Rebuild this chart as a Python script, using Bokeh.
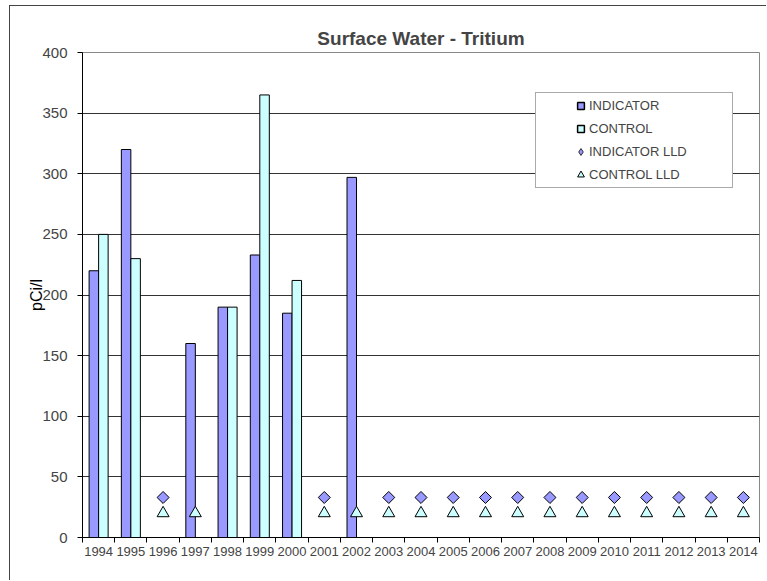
import numpy as np
from bokeh.plotting import figure
from bokeh.layouts import column
from bokeh.models import ColumnDataSource, FixedTicker, Legend, LegendItem, Range1d, Title
from bokeh.transform import dodge
from bokeh.embed import file_html
from bokeh.resources import INLINE

nan = float("nan")

years = ["1994", "1995", "1996", "1997", "1998", "1999", "2000", "2001", "2002",
         "2003", "2004", "2005", "2006", "2007", "2008", "2009", "2010", "2011",
         "2012", "2013", "2014"]
indicator = [220, 320, nan, 160, 190, 233, 185, nan, 297,
             nan, nan, nan, nan, nan, nan, nan, nan, nan, nan, nan, nan]
control = [250, 230, nan, nan, 190, 365, 212, nan, nan,
           nan, nan, nan, nan, nan, nan, nan, nan, nan, nan, nan, nan]
indicator_lld = [nan, nan, 33, nan, nan, nan, nan, 33, nan,
                 33, 33, 33, 33, 33, 33, 33, 33, 33, 33, 33, 33]
control_lld = [nan, nan, 20, 20, nan, nan, nan, 20, 20,
               20, 20, 20, 20, 20, 20, 20, 20, 20, 20, 20, 20]
y_ticks = [0, 50, 100, 150, 200, 250, 300, 350, 400]

FONT = "Liberation Sans"
IND_COLOR = "#9999FF"
CTL_COLOR = "#CCFFFF"

n = len(years)
pos = list(range(n))
src = ColumnDataSource(dict(x=pos, ind=indicator, ctl=control,
                            ind_lld=indicator_lld, ctl_lld=control_lld))

p = figure(width=756, height=574, x_range=Range1d(-0.5, n - 0.5), y_range=Range1d(0, 400),
           output_backend="svg", toolbar_location=None,
           min_border_left=72, min_border_right=7, min_border_top=46, min_border_bottom=43)

bw = 0.295
p.vbar(x=dodge("x", -bw / 2), top="ind", width=bw, source=src,
       fill_color=IND_COLOR, line_color="black", line_width=1)
p.vbar(x=dodge("x", bw / 2), top="ctl", width=bw, source=src,
       fill_color=CTL_COLOR, line_color="black", line_width=1)
p.scatter(x="x", y="ind_lld", source=src, marker="square", angle=np.pi / 4, size=8.5,
          fill_color=IND_COLOR, line_color="black", line_width=1)
r_ctl_lld = p.scatter(x="x", y="ctl_lld", source=src, marker="triangle", size=12,
                      fill_color=CTL_COLOR, line_color="black", line_width=1)

# legend-only swatches (single NaN point, never drawn on the plot)
sw_ind = p.scatter(x=[nan], y=[nan], marker="square", fill_color=IND_COLOR,
                   line_color="black", line_width=1.5)
sw_ctl = p.scatter(x=[nan], y=[nan], marker="square", fill_color=CTL_COLOR,
                   line_color="black", line_width=1.5)
sw_ind_lld = p.scatter(x=[nan], y=[nan], marker="diamond", fill_color=IND_COLOR,
                       line_color="black", line_width=0.8)

legend = Legend(items=[LegendItem(label="INDICATOR", renderers=[sw_ind]),
                       LegendItem(label="CONTROL", renderers=[sw_ctl]),
                       LegendItem(label="INDICATOR LLD", renderers=[sw_ind_lld]),
                       LegendItem(label="CONTROL LLD", renderers=[r_ctl_lld])],
                location=(453, 349), title=" ", title_location="left", title_standoff=18,
                title_text_font_size="12px", padding=4, margin=0,
                glyph_width=17, glyph_height=17, label_height=17, label_width=139,
                spacing=6, label_standoff=-1,
                label_text_font=FONT, label_text_font_size="13px",
                border_line_color="#555555", border_line_width=1,
                background_fill_color="white", background_fill_alpha=1)
p.add_layout(legend)

# axes
p.xaxis.ticker = FixedTicker(ticks=pos, minor_ticks=[i - 0.5 for i in range(n + 1)])
p.xaxis.major_label_overrides = {i: years[i] for i in pos}
p.xaxis.major_tick_out = 0
p.xaxis.major_tick_in = 0
p.xaxis.minor_tick_out = 5
p.xaxis.minor_tick_in = 0
p.xaxis.major_label_text_font = FONT
p.xaxis.major_label_text_font_size = "13px"
p.xaxis.major_label_standoff = 4
p.xaxis.axis_line_color = "black"
p.xaxis.minor_tick_line_color = "black"

p.yaxis.ticker = FixedTicker(ticks=y_ticks)
p.yaxis.major_tick_out = 5
p.yaxis.major_tick_in = 0
p.yaxis.minor_tick_out = 0
p.yaxis.minor_tick_in = 0
p.yaxis.major_label_text_font = FONT
p.yaxis.major_label_text_font_size = "15px"
p.yaxis.major_label_standoff = 10
p.yaxis.axis_line_color = "black"
p.yaxis.major_tick_line_color = "black"

# y-axis title: a side-panel title, centred a little below the middle of the frame
p.add_layout(Title(text="pCi/l", align="center", offset=-31, standoff=-10,
                   text_font=FONT, text_font_size="16px", text_font_style="normal",
                   text_color="black"), "left")

p.xgrid.visible = False
p.ygrid.ticker = FixedTicker(ticks=y_ticks[1:-1])
p.ygrid.grid_line_color = "#333333"
p.ygrid.grid_line_width = 1

p.outline_line_color = "#888888"
p.outline_line_width = 1

p.title.text = "Surface Water - Tritium"
p.title.align = "center"
p.title.offset = -5
p.title.text_font = FONT
p.title.text_font_style = "bold"
p.title.text_font_size = "19px"
p.title.standoff = 8

page = column(p, styles={"margin-left": "9px", "margin-top": "5px",
                         "border-left": "1px solid #444444",
                         "border-top": "1px solid #444444"})

open("out.html", "w").write(file_html(page, INLINE))
